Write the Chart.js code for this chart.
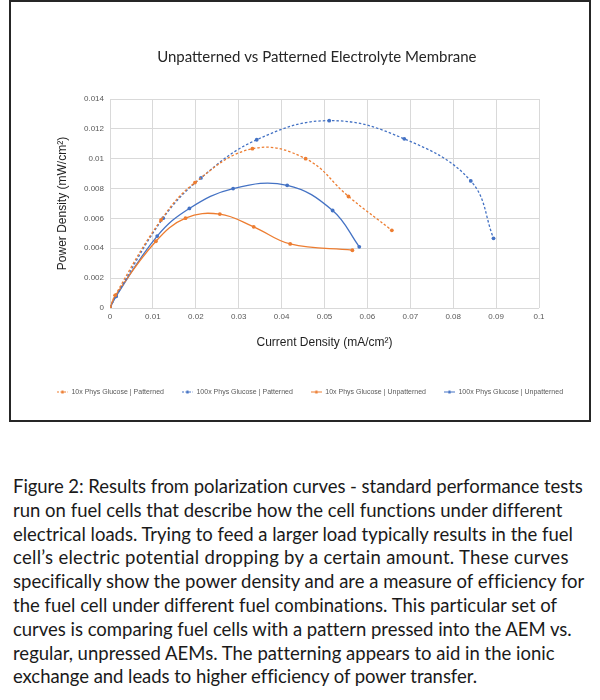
<!DOCTYPE html>
<html><head><meta charset="utf-8">
<script src="https://cdn.jsdelivr.net/npm/chart.js@4.4.1/dist/chart.umd.min.js"></script>
<style>
html,body{margin:0;padding:0;background:#fff;width:600px;height:700px;overflow:hidden}
#wrap{position:absolute;left:0;top:0;width:600px;height:430px}
#frame{position:absolute;left:9px;top:0;width:578px;height:418px;border:2px solid #262626;pointer-events:none}
#caption{position:absolute;left:13px;top:475px;font-family:Lato,"Open Sans",sans-serif;font-size:18.5px;line-height:23.8px;color:#1a1a1a;white-space:nowrap}
#caption span{display:block;width:max-content}
</style></head><body>
<div id="wrap"><canvas id="c" width="600" height="430"></canvas></div>
<div id="frame"></div>
<div id="caption"><span>Figure 2: Results from polarization curves - standard performance tests</span><span>run on fuel cells that describe how the cell functions under different</span><span>electrical loads. Trying to feed a larger load typically results in the fuel</span><span>cell’s electric potential dropping by a certain amount. These curves</span><span>specifically show the power density and are a measure of efficiency for</span><span>the fuel cell under different fuel combinations. This particular set of</span><span>curves is comparing fuel cells with a pattern pressed into the AEM vs.</span><span>regular, unpressed AEMs. The patterning appears to aid in the ionic</span><span>exchange and leads to higher efficiency of power transfer.</span></div>
<script>
// ---- data ----
const seriesNames = [
  '10x Phys Glucose | Patterned',
  '100x Phys Glucose | Patterned',
  '10x Phys Glucose | Unpatterned',
  '100x Phys Glucose | Unpatterned'
];
const current10xPatterned  = [0, 0.0012, 0.0119, 0.0198, 0.0332, 0.0456, 0.0556, 0.0657];
const power10xPatterned    = [0, 0.00085, 0.0059, 0.0084, 0.01067, 0.0100, 0.00747, 0.0052];
const current100xPatterned = [0, 0.0014, 0.0124, 0.0212, 0.0342, 0.0511, 0.0686, 0.0841, 0.0894];
const power100xPatterned   = [0, 0.00078, 0.00602, 0.00871, 0.01127, 0.01255, 0.01133, 0.00851, 0.00467];
const current10xUnpatterned  = [0, 0.0013, 0.0107, 0.0176, 0.0256, 0.0335, 0.0420, 0.0565];
const power10xUnpatterned    = [0, 0.00085, 0.00447, 0.00602, 0.00629, 0.00544, 0.00429, 0.00387];
const current100xUnpatterned = [0, 0.0014, 0.0110, 0.0185, 0.0287, 0.0413, 0.0519, 0.0581];
const power100xUnpatterned   = [0, 0.00078, 0.00482, 0.00667, 0.0080, 0.00822, 0.00653, 0.0041];
const xTickLabels = ['0','0.01','0.02','0.03','0.04','0.05','0.06','0.07','0.08','0.09','0.1'];
const yTickLabels = ['0','0.002','0.004','0.006','0.008','0.01','0.012','0.014'];

// ---- caption line fitting (match reference line lengths) ----
const captionRightEdges = [583, 562, 573, 569, 583, 557, 571, 554, 476];
document.querySelectorAll('#caption span').forEach((s, i) => {
  const w = s.getBoundingClientRect().width;
  const target = captionRightEdges[i] - 13;
  const n = s.textContent.length;
  s.style.letterSpacing = ((target - w) / n).toFixed(3) + 'px';
});

// ---- styling ----
const ORANGE = '#ED7D31', BLUE = '#4472C4';
const colors = [ORANGE, BLUE, ORANGE, BLUE];
const dashed = [true, true, false, false];
const xs = [current10xPatterned, current100xPatterned, current10xUnpatterned, current100xUnpatterned];
const ys = [power10xPatterned, power100xPatterned, power10xUnpatterned, power100xUnpatterned];

function pts(x, y){ return x.map((v,i)=>({x:v, y:y[i]})); }

function icon(color, isDashed){
  const c = document.createElement('canvas');
  c.width = 11; c.height = 5;
  const g = c.getContext('2d');
  g.strokeStyle = color; g.lineWidth = 1;
  if (isDashed) g.setLineDash([2,1.5]);
  g.beginPath(); g.moveTo(0,2.5); g.lineTo(11,2.5); g.stroke();
  g.setLineDash([]);
  g.fillStyle = color; g.beginPath(); g.arc(5.5,2.5,1.6,0,Math.PI*2); g.fill();
  return c;
}
const icons = colors.map((c,i)=>icon(c, dashed[i]));

const datasets = seriesNames.map((name,i)=>({
  label: name,
  data: pts(xs[i], ys[i]),
  showLine: true,
  borderColor: colors[i],
  backgroundColor: colors[i],
  borderWidth: 1.3,
  borderDash: dashed[i] ? [2.5,2] : [],
  tension: 0.4,
  pointRadius: 1.9,
  pointBorderWidth: 0,
  pointBackgroundColor: colors[i],
  fill: false
}));

const labelFamily = '"Liberation Sans", Arial, sans-serif';
const tickFont = {family: labelFamily, size: 8};
const fmt = v => Number(v.toFixed(4)).toString();

new Chart(document.getElementById('c'), {
  type: 'scatter',
  data: { datasets },
  options: {
    responsive: false,
    animation: false,
    devicePixelRatio: 1,
    layout: { padding: { left: 25, right: 5, top: 47, bottom: 24.5 } },
    plugins: {
      title: {
        display: true,
        text: 'Unpatterned vs Patterned Electrolyte Membrane    ',
        fullSize: false,
        color: '#262626',
        font: { family: 'Lato, sans-serif', size: 15, weight: 'normal' },
        padding: { top: 1, bottom: 33 }
      },
      legend: {
        position: 'bottom',
        labels: {
          usePointStyle: true,
          pointStyleWidth: 11,
          padding: 18,
          color: '#595959',
          font: { family: labelFamily, size: 7 },
          generateLabels(chart){
            const items = Chart.defaults.plugins.legend.labels.generateLabels(chart);
            items.forEach((it,i)=>{ it.pointStyle = icons[i]; });
            return items;
          }
        }
      },
      tooltip: { enabled: false }
    },
    scales: {
      x: {
        type: 'linear', min: 0, max: 0.1,
        grid: { color: '#d9d9d9', drawTicks: false },
        border: { display: false },
        ticks: { stepSize: 0.01, padding: 4, color: '#595959', font: tickFont, maxRotation: 0,
          callback: (v,i) => xTickLabels[i] !== undefined ? xTickLabels[i] : fmt(v) },
        title: { display: true, text: 'Current Density (mA/cm²)', color: '#1f1f1f',
          font: { family: labelFamily, size: 12 },
          padding: { top: 0, bottom: 20.3 } },
        afterFit(s){ s.height = 62.5; }
      },
      y: {
        type: 'linear', min: 0, max: 0.014,
        grid: { color: '#d9d9d9', drawTicks: false },
        border: { display: false },
        ticks: { stepSize: 0.002, padding: 6, color: '#595959', font: tickFont,
          callback: (v,i) => yTickLabels[i] !== undefined ? yTickLabels[i] : fmt(v) },
        title: { display: true, text: 'Power Density (mW/cm²)', color: '#1f1f1f',
          font: { family: labelFamily, size: 12 },
          padding: { top: 30, bottom: 0 } },
        afterFit(s){ s.width = 85; }
      },
      yRightSpacer: {
        position: 'right',
        display: true,
        grid: { display: false },
        border: { display: false },
        ticks: { display: false },
        afterFit(s){ s.width = 56; }
      }
    }
  }
});
</script>
</body></html>
